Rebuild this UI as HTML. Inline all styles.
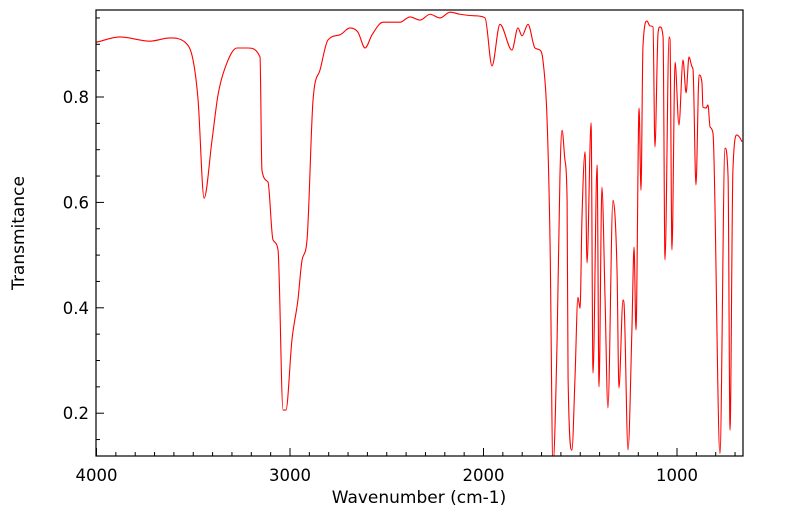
<!DOCTYPE html>
<html><head><meta charset="utf-8"><style>
html,body{margin:0;padding:0;background:#fff;}
svg text{font-family:"DejaVu Sans","Liberation Sans",sans-serif;fill:#000;}
</style></head><body>
<svg id="chart" width="799" height="516" xmlns="http://www.w3.org/2000/svg">
<defs><clipPath id="clip"><rect x="96" y="10" width="647" height="446"/></clipPath></defs>
<g id="axes"></g>
<path id="line" fill="none" stroke="#ff0000" stroke-width="1.1" clip-path="url(#clip)"/>
<rect x="96" y="10" width="647" height="446" fill="none" stroke="#000" stroke-width="1.2"/>
<text x="419" y="503" font-size="17" text-anchor="middle">Wavenumber (cm-1)</text>
<text x="0" y="0" font-size="17" text-anchor="middle" transform="translate(24,233) rotate(-90)">Transmitance</text>
</svg>
<script>
const wavenumbers=[4000,3879,3724,3620,3543,3501,3475,3444,3403,3372,3336,3274,3217,3155,3145,3114,3088,3062,3036,3021,2990,2959,2938,2912,2881,2845,2804,2742,2690,2649,2612,2576,2519,2432,2380,2328,2276,2225,2173,2121,2044,1992,1956,1915,1853,1822,1801,1770,1734,1708,1693,1672,1656,1641,1620,1605,1594,1579,1568,1563,1543,1527,1512,1501,1491,1475,1465,1444,1434,1413,1403,1388,1372,1357,1331,1310,1300,1279,1274,1253,1233,1222,1212,1196,1186,1176,1155,1140,1124,1114,1098,1088,1072,1062,1041,1036,1026,1010,990,969,953,938,922,917,902,886,871,866,850,840,829,814,778,752,736,726,711,690,674,664];
const transmittance=[0.904,0.914,0.906,0.912,0.904,0.870,0.794,0.608,0.718,0.804,0.855,0.893,0.893,0.876,0.661,0.639,0.529,0.510,0.206,0.206,0.339,0.415,0.490,0.529,0.794,0.851,0.908,0.918,0.931,0.923,0.893,0.918,0.942,0.942,0.952,0.946,0.957,0.950,0.961,0.957,0.954,0.950,0.859,0.938,0.889,0.931,0.916,0.938,0.893,0.889,0.870,0.762,0.523,0.100,0.333,0.648,0.737,0.680,0.604,0.269,0.130,0.269,0.420,0.399,0.572,0.696,0.485,0.751,0.276,0.671,0.250,0.629,0.420,0.210,0.604,0.472,0.248,0.415,0.409,0.130,0.358,0.515,0.358,0.779,0.623,0.895,0.944,0.935,0.933,0.705,0.921,0.933,0.914,0.491,0.914,0.908,0.510,0.866,0.747,0.870,0.808,0.876,0.857,0.851,0.633,0.842,0.827,0.781,0.779,0.785,0.743,0.731,0.124,0.703,0.648,0.168,0.661,0.728,0.722,0.715];
const xTickValues=[4000,3000,2000,1000];
const xTickLabels=["4000","3000","2000","1000"];
const yTickValues=[0.2,0.4,0.6,0.8];
const yTickLabels=["0.2","0.4","0.6","0.8"];

const X0=96.5,WN0=4000,PXW=0.1935;
function xs(w){return X0+(WN0-w)*PXW;}
function ys(t){return 518.6-t*527;}

const NS="http://www.w3.org/2000/svg";
const axes=document.getElementById('axes');
function ln(x1,y1,x2,y2,name){const l=document.createElementNS(NS,'line');
l.setAttribute('x1',x1);l.setAttribute('y1',y1);l.setAttribute('x2',x2);l.setAttribute('y2',y2);
l.setAttribute('stroke','#000');l.setAttribute('stroke-width','1');


axes.appendChild(l);}
for(let w=4000;w>=700;w-=100){const x=xs(w);const major=w%1000===0;ln(x,456,x,456-(major?8:4),major?'x-major-tick':'x-minor-tick');}
for(let t=0.15;t<=0.951;t+=0.05){const y=ys(t);const major=Math.abs(t*10-Math.round(t*10))<1e-6&&Math.round(t*10)%2===0;ln(96,y,96+(major?8:4),y,major?'y-major-tick':'y-minor-tick');}
xTickValues.forEach((v,i)=>{const t=document.createElementNS(NS,'text');
t.setAttribute('x',xs(v));t.setAttribute('y',481);t.setAttribute('font-size','16.5');t.setAttribute('text-anchor','middle');
t.textContent=xTickLabels[i];


axes.appendChild(t);});
yTickValues.forEach((v,i)=>{const t=document.createElementNS(NS,'text');
t.setAttribute('x',89);t.setAttribute('y',ys(v)+6);t.setAttribute('font-size','16.5');t.setAttribute('text-anchor','end');
t.textContent=yTickLabels[i];


axes.appendChild(t);});

// monotone cubic path
const px=wavenumbers.map(xs), py=transmittance.map(ys), n=px.length;
const dl=[],m=[];
for(let i=0;i<n-1;i++){dl.push((py[i+1]-py[i])/(px[i+1]-px[i]));}
m[0]=dl[0];m[n-1]=dl[n-2];
for(let i=1;i<n-1;i++){m[i]=(dl[i-1]*dl[i]<=0)?0:(dl[i-1]+dl[i])/2;}
for(let i=0;i<n-1;i++){if(dl[i]===0){m[i]=0;m[i+1]=0;continue;}
const a=m[i]/dl[i],b=m[i+1]/dl[i],s=a*a+b*b;if(s>9){const tt=3/Math.sqrt(s);m[i]=tt*a*dl[i];m[i+1]=tt*b*dl[i];}}
let d='M'+px[0].toFixed(1)+','+py[0].toFixed(1);
for(let i=0;i<n-1;i++){const h=(px[i+1]-px[i])/3;
d+='C'+(px[i]+h).toFixed(2)+','+(py[i]+m[i]*h).toFixed(2)+' '+(px[i+1]-h).toFixed(2)+','+(py[i+1]-m[i+1]*h).toFixed(2)+' '+px[i+1].toFixed(2)+','+py[i+1].toFixed(2);}
document.getElementById('line').setAttribute('d',d);
</script>
</body></html>
